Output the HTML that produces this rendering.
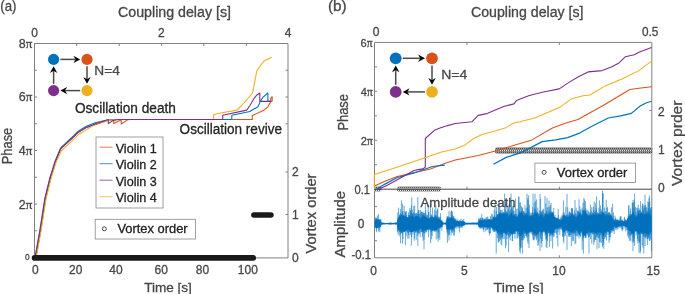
<!DOCTYPE html>
<html><head><meta charset="utf-8"><style>
html,body{margin:0;padding:0;background:#fff;width:685px;height:294px;overflow:hidden}
svg{display:block;transform:translateZ(0)}
text{font-family:"Liberation Sans",sans-serif;stroke:currentColor;stroke-width:0.3px}
</style></head><body>
<svg width="685" height="294" viewBox="0 0 685 294"><text x="0.3" y="10.7" font-size="15" fill="#474747" color="#474747" font-family="Liberation Sans" textLength="16.2" lengthAdjust="spacingAndGlyphs">(a)</text>
<text x="328" y="10.7" font-size="15" fill="#474747" color="#474747" font-family="Liberation Sans" textLength="18.7" lengthAdjust="spacingAndGlyphs">(b)</text>
<text x="118" y="17" font-size="14" fill="#474747" color="#474747" font-family="Liberation Sans" textLength="113" lengthAdjust="spacingAndGlyphs">Coupling delay [s]</text>
<text x="471" y="17" font-size="14" fill="#474747" color="#474747" font-family="Liberation Sans" textLength="112.5" lengthAdjust="spacingAndGlyphs">Coupling delay [s]</text>
<path d="M34.5,257.9 V43.5 H288 V257.9 H34.5" fill="none" stroke="#808080" stroke-width="1"/>
<line x1="34.5" y1="43.5" x2="37.0" y2="43.5" stroke="#808080" stroke-width="1"/>
<line x1="34.5" y1="70.25" x2="37.0" y2="70.25" stroke="#808080" stroke-width="1"/>
<line x1="34.5" y1="97.0" x2="37.0" y2="97.0" stroke="#808080" stroke-width="1"/>
<line x1="34.5" y1="123.75" x2="37.0" y2="123.75" stroke="#808080" stroke-width="1"/>
<line x1="34.5" y1="150.5" x2="37.0" y2="150.5" stroke="#808080" stroke-width="1"/>
<line x1="34.5" y1="177.25" x2="37.0" y2="177.25" stroke="#808080" stroke-width="1"/>
<line x1="34.5" y1="204.0" x2="37.0" y2="204.0" stroke="#808080" stroke-width="1"/>
<line x1="34.5" y1="230.75" x2="37.0" y2="230.75" stroke="#808080" stroke-width="1"/>
<line x1="34.5" y1="257.5" x2="37.0" y2="257.5" stroke="#808080" stroke-width="1"/>
<line x1="76.7" y1="43.5" x2="76.7" y2="46.0" stroke="#808080" stroke-width="1"/>
<line x1="119.2" y1="43.5" x2="119.2" y2="46.0" stroke="#808080" stroke-width="1"/>
<line x1="161.7" y1="43.5" x2="161.7" y2="46.0" stroke="#808080" stroke-width="1"/>
<line x1="203.8" y1="43.5" x2="203.8" y2="46.0" stroke="#808080" stroke-width="1"/>
<line x1="246.3" y1="43.5" x2="246.3" y2="46.0" stroke="#808080" stroke-width="1"/>
<line x1="285.5" y1="70.25" x2="288" y2="70.25" stroke="#808080" stroke-width="1"/>
<line x1="285.5" y1="97" x2="288" y2="97" stroke="#808080" stroke-width="1"/>
<line x1="285.5" y1="123.75" x2="288" y2="123.75" stroke="#808080" stroke-width="1"/>
<line x1="285.5" y1="172" x2="288" y2="172" stroke="#808080" stroke-width="1"/>
<line x1="285.5" y1="214.5" x2="288" y2="214.5" stroke="#808080" stroke-width="1"/>
<text x="34.5" y="36.5" font-size="12" fill="#474747" color="#474747" font-family="Liberation Sans" text-anchor="middle">0</text>
<text x="161.25" y="36.5" font-size="12" fill="#474747" color="#474747" font-family="Liberation Sans" text-anchor="middle">2</text>
<text x="288.0" y="36.5" font-size="12" fill="#474747" color="#474747" font-family="Liberation Sans" text-anchor="middle">4</text>
<text x="32.3" y="47.8" font-size="12.5" fill="#474747" color="#474747" font-family="Liberation Sans" text-anchor="end">8<tspan font-family="Liberation Serif" font-size="13.125">π</tspan></text>
<text x="32.3" y="101.3" font-size="12.5" fill="#474747" color="#474747" font-family="Liberation Sans" text-anchor="end">6<tspan font-family="Liberation Serif" font-size="13.125">π</tspan></text>
<text x="32.3" y="154.8" font-size="12.5" fill="#474747" color="#474747" font-family="Liberation Sans" text-anchor="end">4<tspan font-family="Liberation Serif" font-size="13.125">π</tspan></text>
<text x="32.3" y="208.5" font-size="12.5" fill="#474747" color="#474747" font-family="Liberation Sans" text-anchor="end">2<tspan font-family="Liberation Serif" font-size="13.125">π</tspan></text>
<text x="29.6" y="259.6" font-size="9" fill="#474747" color="#474747" font-family="Liberation Sans" text-anchor="end" textLength="4.6" lengthAdjust="spacingAndGlyphs">0</text>
<text x="35.3" y="273.7" font-size="12" fill="#474747" color="#474747" font-family="Liberation Sans" text-anchor="middle">0</text>
<text x="75.8" y="273.7" font-size="12" fill="#474747" color="#474747" font-family="Liberation Sans" text-anchor="middle">20</text>
<text x="116" y="273.7" font-size="12" fill="#474747" color="#474747" font-family="Liberation Sans" text-anchor="middle">40</text>
<text x="161.3" y="273.7" font-size="12" fill="#474747" color="#474747" font-family="Liberation Sans" text-anchor="middle">60</text>
<text x="202.5" y="273.7" font-size="12" fill="#474747" color="#474747" font-family="Liberation Sans" text-anchor="middle">80</text>
<text x="247.8" y="273.7" font-size="12" fill="#474747" color="#474747" font-family="Liberation Sans" text-anchor="middle">100</text>
<text x="144.2" y="291.5" font-size="13.5" fill="#474747" color="#474747" font-family="Liberation Sans" textLength="47.7" lengthAdjust="spacingAndGlyphs">Time [s]</text>
<text x="292" y="261.7" font-size="12" fill="#474747" color="#474747" font-family="Liberation Sans">0</text>
<text x="292" y="218.7" font-size="12" fill="#474747" color="#474747" font-family="Liberation Sans">1</text>
<text x="292" y="176.2" font-size="12" fill="#474747" color="#474747" font-family="Liberation Sans">2</text>
<text transform="translate(11.7,164.2) rotate(-90)" font-size="14" fill="#474747" color="#474747" font-family="Liberation Sans" textLength="36.4" lengthAdjust="spacingAndGlyphs">Phase</text>
<text transform="translate(315.9,253.5) rotate(-90)" font-size="14" fill="#474747" color="#474747" font-family="Liberation Sans" textLength="80" lengthAdjust="spacingAndGlyphs">Vortex order</text>
<circle cx="53.6" cy="59.4" r="5.6" fill="#0072BD"/>
<circle cx="87.0" cy="59.4" r="5.6" fill="#D95319"/>
<circle cx="87.0" cy="90.6" r="5.6" fill="#EDB120"/>
<circle cx="53.6" cy="90.6" r="5.6" fill="#7E2F8E"/>
<line x1="60.4" y1="59.4" x2="75.4" y2="59.4" stroke="#4a4a4a" stroke-width="1.5"/>
<path d="M80.2,59.4 L73.4,63.1 L75.60000000000001,59.4 L73.4,55.699999999999996 Z" fill="#000"/>
<line x1="87.0" y1="66.2" x2="87.0" y2="79.0" stroke="#4a4a4a" stroke-width="1.5"/>
<path d="M87.0,83.8 L83.3,77.0 L87.0,79.2 L90.7,77.0 Z" fill="#000"/>
<line x1="80.2" y1="90.6" x2="65.2" y2="90.6" stroke="#4a4a4a" stroke-width="1.5"/>
<path d="M60.4,90.6 L67.2,86.89999999999999 L65.0,90.6 L67.2,94.3 Z" fill="#000"/>
<line x1="53.6" y1="83.8" x2="53.6" y2="71.0" stroke="#4a4a4a" stroke-width="1.5"/>
<path d="M53.6,66.2 L57.300000000000004,73.0 L53.6,70.8 L49.9,73.0 Z" fill="#000"/>
<text x="94.3" y="75.2" font-size="13" fill="#4a4a4a" color="#4a4a4a" font-family="Liberation Sans" textLength="25.5" lengthAdjust="spacingAndGlyphs">N=4</text>
<text x="74.9" y="113" font-size="14" fill="#262626" color="#262626" font-family="Liberation Sans" textLength="101" lengthAdjust="spacingAndGlyphs">Oscillation death</text>
<text x="179.6" y="134.3" font-size="14" fill="#262626" color="#262626" font-family="Liberation Sans" textLength="102.4" lengthAdjust="spacingAndGlyphs">Oscillation revive</text>
<polyline points="35.4,257.5 40.2,230.7 45.3,198.0 50.3,177.8 55.4,161.4 60.5,149.2 62.6,147.1 67.7,142.4 73.0,137.5 78.1,132.4 85.8,127.8 96.0,124.5 107.6,120.5 110.0,119.8 113.7,119.8 113.7,123.5 121.2,119.8 121.2,124.0 128.0,119.6 130.0,119.5 252.3,119.5 252.3,115.5 263.3,110.6 267.9,106.8 270.2,102.9 271.0,97.6 272.2,96.8 272.2,101.4" fill="none" stroke="#D95319" stroke-width="1.1" stroke-linejoin="round"/>
<polyline points="35.9,256.9 40.7,230.1 45.8,197.4 50.8,177.2 55.9,160.8 61.0,147.7 63.1,145.6 68.2,140.9 73.5,136.0 78.6,130.9 86.3,126.3 96.0,122.5 106.0,120.3 118.0,119.5 231.8,119.5 231.8,115.2 250.0,111.5 252.6,109.8 258.0,106.8 260.3,101.4 263.3,96.8 267.9,93.0 267.9,101.4 270.0,101.4" fill="none" stroke="#0072BD" stroke-width="1.1" stroke-linejoin="round"/>
<polyline points="36.2,258.0 41.0,231.2 46.1,198.5 51.1,178.3 56.2,161.9 61.3,151.0 63.4,148.9 68.5,144.2 73.8,139.3 78.9,134.2 86.6,129.6 96.0,123.5 106.0,120.6 118.0,119.5 213.5,119.5 213.5,114.7 219.2,113.3 237.1,110.1 241.2,106.0 252.6,93.0 256.8,70.9 263.6,61.3 271.7,57.2" fill="none" stroke="#EDB120" stroke-width="1.1" stroke-linejoin="round"/>
<polyline points="34.9,257.8 39.7,231.0 44.8,198.3 49.8,178.1 54.9,161.7 60.0,149.5 62.1,147.4 67.2,142.7 72.5,137.8 77.6,132.7 85.3,128.1 96.0,123.5 104.0,121.0 108.3,119.6 108.3,123.6 113.0,120.5 118.0,119.5 222.7,119.5 222.7,115.2 246.7,110.1 249.6,106.0 254.2,98.3 256.5,95.3 259.8,93.0 259.8,101.4 271.8,101.4" fill="none" stroke="#7E2F8E" stroke-width="1.1" stroke-linejoin="round"/>
<rect x="96" y="137" width="67" height="71" fill="#fff" stroke="#888" stroke-width="0.8"/>
<line x1="99.5" y1="147.2" x2="112.6" y2="147.2" stroke="#D95319" stroke-width="1" opacity="0.75"/>
<text x="115.7" y="152.6" font-size="13.3" fill="#222" color="#222" font-family="Liberation Sans" textLength="41" lengthAdjust="spacingAndGlyphs">Violin 1</text>
<line x1="99.5" y1="163.7" x2="112.6" y2="163.7" stroke="#0072BD" stroke-width="1" opacity="0.75"/>
<text x="115.7" y="169.1" font-size="13.3" fill="#222" color="#222" font-family="Liberation Sans" textLength="41" lengthAdjust="spacingAndGlyphs">Violin 2</text>
<line x1="99.5" y1="180.2" x2="112.6" y2="180.2" stroke="#7E2F8E" stroke-width="1" opacity="0.75"/>
<text x="115.7" y="185.6" font-size="13.3" fill="#222" color="#222" font-family="Liberation Sans" textLength="41" lengthAdjust="spacingAndGlyphs">Violin 3</text>
<line x1="99.5" y1="196.7" x2="112.6" y2="196.7" stroke="#EDB120" stroke-width="1" opacity="0.75"/>
<text x="115.7" y="202.1" font-size="13.3" fill="#222" color="#222" font-family="Liberation Sans" textLength="41" lengthAdjust="spacingAndGlyphs">Violin 4</text>
<rect x="95.2" y="219.3" width="100.3" height="19.7" fill="#fff" stroke="#888" stroke-width="0.8"/>
<circle cx="104.3" cy="228.8" r="2" fill="none" stroke="#222" stroke-width="0.8"/>
<text x="117.4" y="233" font-size="13.3" fill="#222" color="#222" font-family="Liberation Sans" textLength="70.2" lengthAdjust="spacingAndGlyphs">Vortex order</text>
<line x1="34.5" y1="257.9" x2="253.3" y2="257.9" stroke="#1a1a1a" stroke-width="5.6" stroke-linecap="round"/>
<line x1="253.9" y1="215" x2="270.9" y2="215" stroke="#1a1a1a" stroke-width="5.6" stroke-linecap="round"/>
<path d="M374.5,257.8 V42.4 H651.8 V257.8 H374.5" fill="none" stroke="#808080" stroke-width="1"/>
<line x1="374.5" y1="189.2" x2="651.8" y2="189.2" stroke="#444" stroke-width="1"/>
<line x1="466.93333333333334" y1="42.4" x2="466.93333333333334" y2="44.9" stroke="#808080" stroke-width="1"/>
<line x1="466.93333333333334" y1="189.2" x2="466.93333333333334" y2="186.7" stroke="#808080" stroke-width="1"/>
<line x1="466.93333333333334" y1="257.8" x2="466.93333333333334" y2="255.3" stroke="#808080" stroke-width="1"/>
<line x1="559.3666666666667" y1="42.4" x2="559.3666666666667" y2="44.9" stroke="#808080" stroke-width="1"/>
<line x1="559.3666666666667" y1="189.2" x2="559.3666666666667" y2="186.7" stroke="#808080" stroke-width="1"/>
<line x1="559.3666666666667" y1="257.8" x2="559.3666666666667" y2="255.3" stroke="#808080" stroke-width="1"/>
<line x1="374.5" y1="66.86666666666666" x2="377.0" y2="66.86666666666666" stroke="#808080" stroke-width="1"/>
<line x1="374.5" y1="91.33333333333333" x2="377.0" y2="91.33333333333333" stroke="#808080" stroke-width="1"/>
<line x1="374.5" y1="115.79999999999998" x2="377.0" y2="115.79999999999998" stroke="#808080" stroke-width="1"/>
<line x1="374.5" y1="140.26666666666665" x2="377.0" y2="140.26666666666665" stroke="#808080" stroke-width="1"/>
<line x1="374.5" y1="164.73333333333332" x2="377.0" y2="164.73333333333332" stroke="#808080" stroke-width="1"/>
<line x1="649.3" y1="110.4" x2="651.8" y2="110.4" stroke="#808080" stroke-width="1"/>
<line x1="649.3" y1="150" x2="651.8" y2="150" stroke="#808080" stroke-width="1"/>
<line x1="374.5" y1="206.6" x2="377.0" y2="206.6" stroke="#808080" stroke-width="1"/>
<line x1="374.5" y1="223.6" x2="377.0" y2="223.6" stroke="#808080" stroke-width="1"/>
<line x1="374.5" y1="240.7" x2="377.0" y2="240.7" stroke="#808080" stroke-width="1"/>
<text x="376" y="35.5" font-size="12" fill="#474747" color="#474747" font-family="Liberation Sans" text-anchor="middle">0</text>
<text x="650.2" y="35.5" font-size="12" fill="#474747" color="#474747" font-family="Liberation Sans" text-anchor="middle" textLength="16.4" lengthAdjust="spacingAndGlyphs">0.5</text>
<text x="372.5" y="46.699999999999996" font-size="11" fill="#474747" color="#474747" font-family="Liberation Sans" text-anchor="end">6<tspan font-family="Liberation Serif" font-size="11.55">π</tspan></text>
<text x="372.8" y="95.8" font-size="11" fill="#474747" color="#474747" font-family="Liberation Sans" text-anchor="end">4<tspan font-family="Liberation Serif" font-size="11.55">π</tspan></text>
<text x="372.8" y="144.8" font-size="11" fill="#474747" color="#474747" font-family="Liberation Sans" text-anchor="end">2<tspan font-family="Liberation Serif" font-size="11.55">π</tspan></text>
<text x="370" y="194.3" font-size="12" fill="#474747" color="#474747" font-family="Liberation Sans" text-anchor="end" textLength="15.5" lengthAdjust="spacingAndGlyphs">0.1</text>
<text x="364.5" y="227.6" font-size="12" fill="#474747" color="#474747" font-family="Liberation Sans" text-anchor="end">0</text>
<text x="371" y="259.3" font-size="12" fill="#474747" color="#474747" font-family="Liberation Sans" text-anchor="end" textLength="19.6" lengthAdjust="spacingAndGlyphs">-0.1</text>
<text x="373.7" y="274.5" font-size="12" fill="#474747" color="#474747" font-family="Liberation Sans" text-anchor="middle">0</text>
<text x="464.3" y="274.5" font-size="12" fill="#474747" color="#474747" font-family="Liberation Sans" text-anchor="middle">5</text>
<text x="559" y="274.5" font-size="12" fill="#474747" color="#474747" font-family="Liberation Sans" text-anchor="middle">10</text>
<text x="653.2" y="274.5" font-size="12" fill="#474747" color="#474747" font-family="Liberation Sans" text-anchor="middle">15</text>
<text x="493.6" y="291.5" font-size="13.5" fill="#474747" color="#474747" font-family="Liberation Sans" textLength="50" lengthAdjust="spacingAndGlyphs">Time [s]</text>
<text x="658" y="115.8" font-size="12" fill="#474747" color="#474747" font-family="Liberation Sans">2</text>
<text x="658" y="154.39999999999998" font-size="12" fill="#474747" color="#474747" font-family="Liberation Sans">1</text>
<text x="658" y="191.7" font-size="12" fill="#474747" color="#474747" font-family="Liberation Sans">0</text>
<text transform="translate(348.3,130.6) rotate(-90)" font-size="14" fill="#474747" color="#474747" font-family="Liberation Sans" textLength="36.6" lengthAdjust="spacingAndGlyphs">Phase</text>
<text transform="translate(345.1,257.5) rotate(-90)" font-size="14" fill="#474747" color="#474747" font-family="Liberation Sans" textLength="66.6" lengthAdjust="spacingAndGlyphs">Amplitude</text>
<text transform="translate(682,186) rotate(-90)" font-size="14" fill="#474747" color="#474747" font-family="Liberation Sans" textLength="85.6" lengthAdjust="spacingAndGlyphs">Vortex prder</text>
<circle cx="395.7" cy="58.3" r="5.9" fill="#0072BD"/>
<circle cx="432.0" cy="58.3" r="5.9" fill="#D95319"/>
<circle cx="432.0" cy="91.9" r="5.9" fill="#EDB120"/>
<circle cx="395.7" cy="91.9" r="5.9" fill="#7E2F8E"/>
<line x1="402.8" y1="58.3" x2="420.09999999999997" y2="58.3" stroke="#4a4a4a" stroke-width="1.5"/>
<path d="M424.9,58.3 L418.09999999999997,62.0 L420.29999999999995,58.3 L418.09999999999997,54.599999999999994 Z" fill="#000"/>
<line x1="432.0" y1="65.39999999999999" x2="432.0" y2="80.00000000000001" stroke="#4a4a4a" stroke-width="1.5"/>
<path d="M432.0,84.80000000000001 L428.3,78.00000000000001 L432.0,80.20000000000002 L435.7,78.00000000000001 Z" fill="#000"/>
<line x1="424.9" y1="91.9" x2="407.6" y2="91.9" stroke="#4a4a4a" stroke-width="1.5"/>
<path d="M402.8,91.9 L409.6,88.2 L407.40000000000003,91.9 L409.6,95.60000000000001 Z" fill="#000"/>
<line x1="395.7" y1="84.80000000000001" x2="395.7" y2="70.19999999999999" stroke="#4a4a4a" stroke-width="1.5"/>
<path d="M395.7,65.39999999999999 L399.4,72.19999999999999 L395.7,69.99999999999999 L392.0,72.19999999999999 Z" fill="#000"/>
<text x="441.2" y="78.5" font-size="13" fill="#4a4a4a" color="#4a4a4a" font-family="Liberation Sans" textLength="26" lengthAdjust="spacingAndGlyphs">N=4</text>
<defs>
<pattern id="cb" patternUnits="userSpaceOnUse" x="0" y="0" width="2" height="7">
<rect x="0" y="0" width="2" height="1" fill="#b4b4b4"/>
<rect x="0" y="1" width="1" height="1" fill="#4c4c4c"/><rect x="1" y="1" width="1" height="1" fill="#9a9a9a"/>
<rect x="0" y="2" width="2" height="1" fill="#8a8a8a"/>
<rect x="0" y="3" width="1" height="1" fill="#e6e6e6"/><rect x="1" y="3" width="1" height="1" fill="#5a5a5a"/>
<rect x="0" y="4" width="2" height="1" fill="#8a8a8a"/>
<rect x="0" y="5" width="1" height="1" fill="#9a9a9a"/><rect x="1" y="5" width="1" height="1" fill="#4c4c4c"/>
<rect x="0" y="6" width="2" height="1" fill="#b4b4b4"/>
</pattern>
<pattern id="cb2" patternUnits="userSpaceOnUse" x="0" y="0" width="2" height="6">
<rect x="0" y="0" width="2" height="1" fill="#c4c4c4"/>
<rect x="0" y="1" width="1" height="1" fill="#5a5a5a"/><rect x="1" y="1" width="1" height="1" fill="#a8a8a8"/>
<rect x="0" y="2" width="2" height="1" fill="#9a9a9a"/>
<rect x="0" y="3" width="2" height="1" fill="#555"/>
<rect x="0" y="4" width="1" height="1" fill="#e8e8e8"/><rect x="1" y="4" width="1" height="1" fill="#5a5a5a"/>
<rect x="0" y="5" width="2" height="1" fill="#c4c4c4"/>
</pattern>
</defs>
<rect x="495" y="147" width="157.5" height="7" rx="2.8" ry="2.8" fill="url(#cb)"/>
<rect x="374" y="186" width="7.5" height="6" rx="2.8" ry="2.8" fill="url(#cb2)"/>
<rect x="397" y="186" width="44" height="6" rx="2.8" ry="2.8" fill="url(#cb2)"/>
<polyline points="374.5,186.0 385.0,181.2 397.3,176.5 413.5,172.7 430.5,168.9 442.5,164.3 455.3,160.0 478.2,155.6 497.3,150.5 515.0,145.0 532.0,139.9 552.4,128.0 566.0,122.9 577.9,119.5 590.0,112.8 605.3,104.2 620.6,95.0 629.8,89.5 638.9,88.3 651.5,86.8" fill="none" stroke="#D95319" stroke-width="1.05" stroke-linejoin="round"/>
<polyline points="376.0,189.5 385.0,184.1 397.3,177.5 413.5,173.2 432.4,166.5 444.8,165.1" fill="none" stroke="#0072BD" stroke-width="1.2" stroke-linejoin="round"/>
<polyline points="493.5,164.3 506.2,157.4 513.9,154.9 520.0,153.1 542.2,141.6 555.8,139.9 567.7,137.6 579.6,133.1 590.0,127.2 608.3,118.0 620.6,115.8 631.3,113.4 640.5,105.7 646.6,102.7 651.5,101.2" fill="none" stroke="#0072BD" stroke-width="1.2" stroke-linejoin="round"/>
<polyline points="378.0,189.5 387.8,185.0 413.5,170.8 416.3,169.9 423.0,168.9 425.3,167.0 425.3,138.5 434.4,130.3 440.0,128.1 447.6,125.6 455.3,123.5 471.8,121.8 478.2,115.4 487.1,113.6 493.5,110.8 503.7,106.5 513.9,103.9 516.4,100.6 528.6,95.7 542.2,92.3 559.2,88.9 569.4,82.1 577.9,77.0 588.1,71.9 602.2,70.6 611.4,66.9 619.0,62.9 625.2,56.8 634.3,54.7 638.9,52.2 651.5,47.6" fill="none" stroke="#7E2F8E" stroke-width="1.1" stroke-linejoin="round"/>
<polyline points="374.3,188.5 374.3,174.5 393.0,168.5 411.8,162.2 441.5,152.1 455.3,149.0 465.5,144.7 473.1,138.8 482.0,134.5 496.0,130.7 505.0,128.1 513.9,123.0 520.0,121.8 535.4,117.8 559.2,107.6 571.1,99.1 583.0,95.7 590.0,95.0 605.3,85.9 623.6,78.2 638.9,70.6 651.5,61.2" fill="none" stroke="#EDB120" stroke-width="1.05" stroke-linejoin="round"/>
<rect x="534.9" y="163.1" width="100.6" height="19.4" fill="#fff" stroke="#888" stroke-width="0.8"/>
<circle cx="544.1" cy="172.3" r="2" fill="none" stroke="#222" stroke-width="0.8"/>
<text x="556.8" y="176.8" font-size="13.3" fill="#222" color="#222" font-family="Liberation Sans" textLength="70.6" lengthAdjust="spacingAndGlyphs">Vortex order</text>
<path d="M375.00,220.2 L375.40,220.5 L375.80,220.4 L376.20,219.9 L376.60,219.7 L377.00,219.3 L377.40,220.1 L377.80,219.6 L378.20,220.2 L378.60,220.4 L379.00,219.5 L379.40,220.0 L379.80,220.2 L380.20,219.8 L380.60,221.1 L381.00,221.8 L381.40,222.6 L381.80,222.5 L382.20,222.6 L382.60,222.5 L383.00,222.8 L383.40,222.5 L383.80,222.8 L384.20,222.8 L384.60,222.8 L385.00,223.0 L385.40,223.0 L385.80,223.0 L386.20,222.9 L386.60,223.0 L387.00,223.0 L387.40,222.9 L387.80,223.0 L388.20,222.9 L388.60,222.8 L389.00,222.7 L389.40,222.7 L389.80,222.5 L390.20,222.6 L390.60,222.6 L391.00,222.7 L391.40,222.7 L391.80,222.7 L392.20,222.9 L392.60,222.8 L393.00,222.9 L393.40,222.7 L393.80,222.9 L394.20,222.8 L394.60,222.8 L395.00,222.6 L395.40,222.5 L395.80,222.5 L396.20,222.5 L396.60,222.4 L397.00,222.6 L397.40,220.7 L397.80,217.5 L398.20,217.1 L398.60,218.3 L399.00,216.5 L399.40,217.0 L399.80,216.4 L400.20,215.3 L400.60,216.4 L401.00,214.5 L401.40,216.0 L401.80,214.4 L402.20,215.9 L402.60,214.7 L403.00,216.1 L403.40,215.1 L403.80,215.0 L404.20,215.5 L404.60,216.2 L405.00,216.2 L405.40,215.9 L405.80,217.2 L406.20,217.7 L406.60,216.7 L407.00,217.2 L407.40,217.6 L407.80,217.0 L408.20,217.0 L408.60,217.8 L409.00,217.1 L409.40,217.0 L409.80,215.5 L410.20,217.0 L410.60,215.2 L411.00,216.5 L411.40,216.8 L411.80,215.2 L412.20,215.6 L412.60,215.9 L413.00,216.1 L413.40,217.2 L413.80,217.6 L414.20,217.6 L414.60,217.0 L415.00,216.5 L415.40,216.3 L415.80,216.2 L416.20,216.3 L416.60,215.2 L417.00,216.3 L417.40,217.2 L417.80,216.4 L418.20,216.2 L418.60,215.8 L419.00,217.3 L419.40,216.8 L419.80,218.3 L420.20,217.2 L420.60,218.9 L421.00,219.0 L421.40,217.3 L421.80,217.4 L422.20,216.2 L422.60,215.7 L423.00,216.6 L423.40,215.0 L423.80,215.0 L424.20,216.9 L424.60,215.2 L425.00,215.8 L425.40,217.6 L425.80,217.1 L426.20,216.4 L426.60,217.3 L427.00,218.6 L427.40,218.1 L427.80,218.5 L428.20,218.0 L428.60,218.8 L429.00,219.0 L429.40,219.7 L429.80,218.3 L430.20,218.6 L430.60,217.1 L431.00,217.9 L431.40,215.8 L431.80,217.0 L432.20,217.4 L432.60,216.3 L433.00,218.2 L433.40,217.7 L433.80,217.0 L434.20,217.8 L434.60,217.4 L435.00,217.0 L435.40,217.1 L435.80,216.7 L436.20,217.6 L436.60,217.4 L437.00,218.5 L437.40,217.6 L437.80,218.3 L438.20,218.6 L438.60,219.0 L439.00,218.3 L439.40,219.1 L439.80,219.9 L440.20,220.2 L440.60,219.5 L441.00,220.3 L441.40,220.7 L441.80,220.6 L442.20,221.6 L442.60,222.0 L443.00,222.5 L443.40,222.4 L443.80,222.5 L444.20,222.8 L444.60,222.8 L445.00,222.6 L445.40,222.6 L445.80,222.8 L446.20,221.5 L446.60,219.6 L447.00,217.8 L447.40,216.9 L447.80,217.9 L448.20,218.2 L448.60,218.4 L449.00,219.3 L449.40,218.6 L449.80,218.8 L450.20,218.0 L450.60,218.7 L451.00,217.7 L451.40,217.1 L451.80,217.9 L452.20,217.9 L452.60,217.8 L453.00,217.1 L453.40,219.0 L453.80,218.7 L454.20,219.6 L454.60,220.0 L455.00,219.3 L455.40,220.7 L455.80,220.4 L456.20,221.2 L456.60,220.6 L457.00,221.2 L457.40,221.4 L457.80,221.5 L458.20,221.2 L458.60,221.3 L459.00,221.4 L459.40,221.2 L459.80,221.4 L460.20,221.3 L460.60,221.4 L461.00,221.5 L461.40,221.1 L461.80,221.2 L462.20,221.5 L462.60,221.4 L463.00,221.6 L463.40,221.4 L463.80,221.6 L464.20,221.8 L464.60,222.0 L465.00,222.2 L465.40,222.6 L465.80,222.5 L466.20,222.7 L466.60,222.7 L467.00,222.7 L467.40,222.7 L467.80,222.7 L468.20,222.6 L468.60,222.7 L469.00,222.7 L469.40,222.7 L469.80,222.8 L470.20,222.8 L470.60,222.8 L471.00,222.7 L471.40,222.5 L471.80,222.7 L472.20,222.6 L472.60,222.5 L473.00,222.8 L473.40,222.6 L473.80,222.6 L474.20,222.7 L474.60,222.6 L475.00,222.8 L475.40,222.6 L475.80,222.8 L476.20,222.5 L476.60,222.6 L477.00,222.5 L477.40,222.5 L477.80,222.6 L478.20,222.3 L478.60,221.0 L479.00,220.8 L479.40,220.9 L479.80,221.0 L480.20,220.2 L480.60,220.5 L481.00,220.1 L481.40,220.3 L481.80,219.5 L482.20,219.4 L482.60,220.2 L483.00,219.5 L483.40,220.1 L483.80,220.7 L484.20,220.2 L484.60,220.0 L485.00,219.9 L485.40,220.4 L485.80,220.4 L486.20,220.0 L486.60,220.2 L487.00,219.6 L487.40,220.0 L487.80,220.3 L488.20,219.6 L488.60,219.5 L489.00,220.1 L489.40,219.4 L489.80,219.4 L490.20,220.1 L490.60,219.8 L491.00,220.3 L491.40,219.3 L491.80,220.2 L492.20,219.4 L492.60,218.7 L493.00,218.4 L493.40,217.7 L493.80,216.5 L494.20,217.3 L494.60,218.3 L495.00,217.2 L495.40,217.4 L495.80,216.8 L496.20,217.0 L496.60,216.2 L497.00,216.3 L497.40,215.0 L497.80,213.7 L498.20,215.2 L498.60,213.6 L499.00,214.8 L499.40,213.1 L499.80,215.0 L500.20,213.7 L500.60,211.9 L501.00,213.4 L501.40,214.0 L501.80,214.3 L502.20,214.3 L502.60,212.4 L503.00,212.7 L503.40,212.8 L503.80,214.0 L504.20,213.3 L504.60,213.5 L505.00,212.9 L505.40,215.3 L505.80,212.2 L506.20,215.0 L506.60,212.5 L507.00,212.9 L507.40,213.9 L507.80,214.0 L508.20,215.7 L508.60,216.9 L509.00,216.5 L509.40,215.6 L509.80,214.7 L510.20,213.1 L510.60,214.3 L511.00,212.4 L511.40,212.6 L511.80,213.2 L512.20,212.3 L512.60,215.0 L513.00,215.7 L513.40,214.1 L513.80,216.0 L514.20,214.9 L514.60,215.1 L515.00,216.9 L515.40,215.2 L515.80,216.8 L516.20,216.1 L516.60,216.9 L517.00,217.2 L517.40,217.3 L517.80,215.7 L518.20,215.1 L518.60,215.0 L519.00,215.0 L519.40,212.0 L519.80,213.0 L520.20,213.6 L520.60,213.2 L521.00,210.6 L521.40,211.3 L521.80,212.4 L522.20,213.3 L522.60,212.8 L523.00,214.0 L523.40,215.2 L523.80,215.3 L524.20,215.5 L524.60,215.7 L525.00,214.8 L525.40,215.1 L525.80,212.5 L526.20,213.7 L526.60,212.7 L527.00,213.9 L527.40,215.1 L527.80,214.6 L528.20,215.1 L528.60,215.8 L529.00,216.3 L529.40,215.9 L529.80,215.0 L530.20,216.4 L530.60,216.2 L531.00,215.1 L531.40,216.1 L531.80,215.6 L532.20,214.8 L532.60,216.4 L533.00,216.2 L533.40,213.7 L533.80,214.4 L534.20,212.1 L534.60,212.9 L535.00,213.2 L535.40,213.8 L535.80,210.8 L536.20,212.7 L536.60,213.7 L537.00,213.5 L537.40,212.9 L537.80,212.8 L538.20,213.4 L538.60,215.3 L539.00,216.6 L539.40,215.2 L539.80,216.7 L540.20,215.7 L540.60,215.1 L541.00,214.6 L541.40,213.0 L541.80,214.4 L542.20,215.3 L542.60,214.9 L543.00,216.1 L543.40,216.9 L543.80,216.7 L544.20,216.2 L544.60,216.7 L545.00,214.3 L545.40,213.4 L545.80,214.4 L546.20,214.6 L546.60,215.0 L547.00,214.6 L547.40,214.9 L547.80,214.3 L548.20,214.9 L548.60,214.7 L549.00,215.8 L549.40,213.0 L549.80,214.6 L550.20,212.8 L550.60,212.3 L551.00,211.9 L551.40,213.4 L551.80,213.9 L552.20,211.5 L552.60,212.4 L553.00,213.7 L553.40,214.6 L553.80,214.5 L554.20,216.4 L554.60,217.3 L555.00,217.8 L555.40,217.6 L555.80,218.3 L556.20,219.5 L556.60,218.4 L557.00,218.0 L557.40,218.5 L557.80,219.5 L558.20,219.6 L558.60,219.0 L559.00,219.6 L559.40,219.8 L559.80,219.6 L560.20,220.6 L560.60,220.8 L561.00,220.3 L561.40,220.1 L561.80,219.1 L562.20,218.8 L562.60,217.7 L563.00,214.8 L563.40,216.5 L563.80,215.7 L564.20,214.9 L564.60,215.6 L565.00,216.5 L565.40,217.1 L565.80,218.0 L566.20,216.5 L566.60,216.9 L567.00,217.9 L567.40,216.2 L567.80,216.7 L568.20,217.3 L568.60,216.5 L569.00,215.5 L569.40,215.4 L569.80,216.2 L570.20,216.5 L570.60,216.0 L571.00,215.8 L571.40,214.7 L571.80,214.1 L572.20,213.9 L572.60,212.9 L573.00,215.7 L573.40,214.3 L573.80,216.0 L574.20,215.6 L574.60,216.1 L575.00,217.0 L575.40,216.6 L575.80,217.8 L576.20,217.4 L576.60,217.3 L577.00,217.3 L577.40,216.0 L577.80,215.5 L578.20,215.1 L578.60,214.1 L579.00,211.4 L579.40,214.7 L579.80,213.4 L580.20,213.6 L580.60,214.2 L581.00,214.4 L581.40,215.3 L581.80,215.6 L582.20,214.1 L582.60,214.5 L583.00,214.4 L583.40,211.2 L583.80,210.4 L584.20,211.2 L584.60,210.8 L585.00,213.2 L585.40,211.1 L585.80,210.9 L586.20,212.8 L586.60,214.5 L587.00,213.5 L587.40,215.5 L587.80,215.1 L588.20,216.0 L588.60,215.9 L589.00,214.4 L589.40,215.5 L589.80,215.9 L590.20,214.9 L590.60,213.7 L591.00,213.7 L591.40,215.1 L591.80,215.8 L592.20,215.9 L592.60,213.6 L593.00,215.9 L593.40,214.5 L593.80,212.8 L594.20,215.1 L594.60,214.9 L595.00,213.7 L595.40,212.5 L595.80,212.9 L596.20,214.0 L596.60,215.4 L597.00,214.3 L597.40,213.7 L597.80,215.7 L598.20,214.7 L598.60,214.3 L599.00,212.9 L599.40,214.6 L599.80,214.1 L600.20,214.6 L600.60,214.9 L601.00,213.2 L601.40,213.1 L601.80,214.8 L602.20,213.4 L602.60,211.6 L603.00,214.1 L603.40,212.4 L603.80,212.7 L604.20,213.9 L604.60,215.3 L605.00,213.6 L605.40,215.7 L605.80,215.6 L606.20,216.5 L606.60,216.7 L607.00,214.6 L607.40,215.4 L607.80,214.9 L608.20,214.6 L608.60,215.2 L609.00,215.6 L609.40,215.2 L609.80,214.6 L610.20,215.9 L610.60,215.2 L611.00,215.3 L611.40,216.7 L611.80,216.7 L612.20,218.5 L612.60,218.2 L613.00,219.0 L613.40,219.8 L613.80,220.0 L614.20,220.7 L614.60,221.1 L615.00,220.6 L615.40,220.8 L615.80,220.3 L616.20,219.8 L616.60,220.4 L617.00,220.3 L617.40,220.0 L617.80,220.5 L618.20,220.9 L618.60,220.6 L619.00,220.6 L619.40,220.6 L619.80,221.2 L620.20,220.5 L620.60,221.0 L621.00,220.8 L621.40,220.9 L621.80,221.0 L622.20,221.3 L622.60,221.5 L623.00,221.7 L623.40,221.3 L623.80,221.6 L624.20,221.5 L624.60,221.5 L625.00,221.4 L625.40,220.6 L625.80,220.8 L626.20,221.0 L626.60,220.9 L627.00,220.3 L627.40,218.6 L627.80,218.3 L628.20,218.2 L628.60,216.2 L629.00,215.9 L629.40,216.2 L629.80,216.4 L630.20,215.5 L630.60,216.2 L631.00,214.1 L631.40,214.8 L631.80,215.2 L632.20,213.0 L632.60,212.6 L633.00,212.7 L633.40,212.4 L633.80,213.1 L634.20,214.4 L634.60,215.3 L635.00,215.6 L635.40,215.2 L635.80,216.8 L636.20,217.0 L636.60,216.7 L637.00,216.8 L637.40,215.2 L637.80,214.9 L638.20,212.5 L638.60,212.1 L639.00,214.1 L639.40,215.2 L639.80,213.7 L640.20,213.9 L640.60,213.5 L641.00,213.0 L641.40,213.3 L641.80,212.0 L642.20,213.7 L642.60,213.8 L643.00,213.1 L643.40,214.6 L643.80,214.0 L644.20,213.7 L644.60,213.8 L645.00,214.7 L645.40,213.4 L645.80,213.4 L646.20,214.6 L646.60,211.8 L647.00,213.6 L647.40,214.5 L647.80,211.9 L648.20,210.8 L648.60,214.2 L649.00,214.4 L649.40,211.6 L649.80,213.2 L650.20,214.5 L650.60,214.2 L651.00,216.3 L651.40,215.8 L651.40,232.2 L651.00,231.9 L650.60,231.2 L650.20,234.0 L649.80,233.6 L649.40,236.1 L649.00,232.9 L648.60,234.2 L648.20,233.9 L647.80,233.4 L647.40,234.2 L647.00,234.4 L646.60,235.2 L646.20,233.2 L645.80,232.0 L645.40,233.6 L645.00,232.5 L644.60,232.9 L644.20,233.6 L643.80,232.3 L643.40,235.2 L643.00,233.9 L642.60,233.3 L642.20,233.4 L641.80,233.5 L641.40,232.0 L641.00,233.6 L640.60,231.9 L640.20,234.0 L639.80,234.4 L639.40,234.3 L639.00,233.2 L638.60,234.3 L638.20,233.7 L637.80,233.5 L637.40,231.7 L637.00,231.7 L636.60,231.3 L636.20,231.0 L635.80,230.6 L635.40,231.0 L635.00,231.0 L634.60,232.2 L634.20,233.7 L633.80,235.2 L633.40,234.0 L633.00,233.8 L632.60,233.9 L632.20,233.9 L631.80,232.2 L631.40,233.2 L631.00,233.1 L630.60,230.9 L630.20,231.1 L629.80,230.6 L629.40,230.8 L629.00,229.9 L628.60,229.5 L628.20,230.5 L627.80,228.7 L627.40,227.7 L627.00,226.3 L626.60,226.5 L626.20,226.7 L625.80,226.4 L625.40,226.0 L625.00,226.3 L624.60,226.1 L624.20,226.3 L623.80,225.7 L623.40,225.5 L623.00,225.6 L622.60,225.8 L622.20,225.8 L621.80,226.0 L621.40,226.5 L621.00,226.2 L620.60,226.3 L620.20,226.1 L619.80,225.9 L619.40,226.2 L619.00,226.4 L618.60,226.5 L618.20,226.4 L617.80,226.3 L617.40,227.0 L617.00,226.4 L616.60,227.7 L616.20,227.8 L615.80,227.0 L615.40,227.2 L615.00,226.4 L614.60,226.4 L614.20,226.1 L613.80,226.7 L613.40,227.6 L613.00,228.7 L612.60,228.6 L612.20,230.4 L611.80,229.4 L611.40,230.7 L611.00,229.8 L610.60,230.6 L610.20,233.2 L609.80,233.5 L609.40,232.8 L609.00,232.2 L608.60,230.9 L608.20,231.4 L607.80,232.3 L607.40,230.3 L607.00,231.3 L606.60,232.4 L606.20,231.1 L605.80,231.6 L605.40,232.9 L605.00,233.2 L604.60,232.8 L604.20,234.5 L603.80,234.7 L603.40,235.7 L603.00,236.3 L602.60,232.6 L602.20,235.0 L601.80,235.2 L601.40,233.2 L601.00,232.3 L600.60,233.2 L600.20,232.0 L599.80,232.5 L599.40,232.7 L599.00,232.2 L598.60,233.6 L598.20,232.1 L597.80,234.4 L597.40,231.4 L597.00,232.6 L596.60,234.0 L596.20,233.3 L595.80,233.1 L595.40,233.0 L595.00,233.8 L594.60,234.1 L594.20,231.7 L593.80,232.3 L593.40,231.5 L593.00,232.6 L592.60,233.3 L592.20,232.2 L591.80,232.3 L591.40,233.5 L591.00,232.0 L590.60,233.4 L590.20,232.0 L589.80,231.2 L589.40,233.5 L589.00,232.7 L588.60,230.6 L588.20,231.2 L587.80,232.8 L587.40,234.0 L587.00,232.6 L586.60,233.6 L586.20,233.7 L585.80,236.2 L585.40,235.4 L585.00,235.9 L584.60,234.7 L584.20,235.5 L583.80,236.4 L583.40,235.6 L583.00,235.3 L582.60,235.0 L582.20,234.4 L581.80,231.8 L581.40,230.4 L581.00,231.8 L580.60,231.4 L580.20,232.2 L579.80,235.0 L579.40,235.7 L579.00,234.7 L578.60,234.2 L578.20,231.9 L577.80,232.9 L577.40,231.0 L577.00,230.4 L576.60,230.8 L576.20,229.5 L575.80,231.5 L575.40,229.5 L575.00,229.8 L574.60,231.7 L574.20,230.6 L573.80,230.8 L573.40,233.4 L573.00,231.6 L572.60,231.7 L572.20,232.3 L571.80,233.3 L571.40,232.0 L571.00,231.5 L570.60,233.1 L570.20,231.8 L569.80,231.6 L569.40,230.7 L569.00,231.7 L568.60,231.0 L568.20,230.9 L567.80,230.5 L567.40,229.9 L567.00,229.8 L566.60,230.8 L566.20,229.8 L565.80,229.5 L565.40,230.1 L565.00,231.7 L564.60,232.4 L564.20,231.0 L563.80,233.0 L563.40,231.8 L563.00,230.9 L562.60,231.2 L562.20,229.4 L561.80,227.5 L561.40,227.3 L561.00,227.2 L560.60,227.1 L560.20,227.3 L559.80,226.8 L559.40,227.4 L559.00,226.8 L558.60,228.2 L558.20,228.7 L557.80,229.2 L557.40,228.9 L557.00,228.7 L556.60,228.7 L556.20,227.7 L555.80,228.3 L555.40,229.5 L555.00,229.8 L554.60,229.9 L554.20,229.6 L553.80,232.1 L553.40,231.7 L553.00,234.7 L552.60,235.3 L552.20,232.6 L551.80,233.2 L551.40,232.5 L551.00,235.8 L550.60,235.4 L550.20,233.0 L549.80,234.1 L549.40,231.6 L549.00,233.0 L548.60,231.5 L548.20,230.2 L547.80,231.6 L547.40,231.0 L547.00,232.6 L546.60,233.5 L546.20,234.7 L545.80,234.5 L545.40,233.8 L545.00,232.5 L544.60,232.0 L544.20,229.8 L543.80,230.2 L543.40,230.4 L543.00,231.6 L542.60,232.1 L542.20,232.1 L541.80,232.1 L541.40,233.4 L541.00,232.6 L540.60,231.8 L540.20,231.6 L539.80,230.7 L539.40,232.0 L539.00,230.7 L538.60,233.0 L538.20,234.1 L537.80,233.0 L537.40,236.3 L537.00,233.8 L536.60,234.8 L536.20,235.1 L535.80,233.6 L535.40,234.1 L535.00,233.1 L534.60,233.9 L534.20,234.7 L533.80,234.3 L533.40,232.2 L533.00,231.5 L532.60,232.1 L532.20,232.6 L531.80,231.7 L531.40,230.9 L531.00,231.9 L530.60,231.9 L530.20,231.2 L529.80,230.5 L529.40,233.0 L529.00,232.9 L528.60,232.9 L528.20,233.1 L527.80,233.5 L527.40,232.3 L527.00,235.2 L526.60,233.0 L526.20,235.1 L525.80,232.4 L525.40,232.7 L525.00,232.8 L524.60,232.6 L524.20,230.3 L523.80,230.2 L523.40,232.2 L523.00,234.2 L522.60,232.8 L522.20,234.9 L521.80,234.3 L521.40,236.9 L521.00,234.2 L520.60,236.0 L520.20,235.8 L519.80,235.4 L519.40,234.9 L519.00,234.3 L518.60,231.2 L518.20,231.7 L517.80,231.7 L517.40,229.3 L517.00,231.4 L516.60,231.6 L516.20,230.4 L515.80,231.8 L515.40,230.5 L515.00,230.8 L514.60,232.2 L514.20,233.2 L513.80,233.8 L513.40,232.2 L513.00,233.2 L512.60,234.4 L512.20,234.5 L511.80,233.1 L511.40,234.3 L511.00,235.2 L510.60,234.6 L510.20,232.5 L509.80,233.1 L509.40,231.5 L509.00,231.8 L508.60,231.9 L508.20,232.8 L507.80,230.7 L507.40,233.5 L507.00,233.8 L506.60,232.0 L506.20,234.4 L505.80,232.7 L505.40,234.7 L505.00,234.2 L504.60,232.1 L504.20,233.1 L503.80,232.6 L503.40,233.3 L503.00,232.9 L502.60,234.3 L502.20,235.5 L501.80,233.1 L501.40,235.1 L501.00,233.9 L500.60,234.3 L500.20,232.8 L499.80,235.1 L499.40,232.9 L499.00,232.2 L498.60,231.9 L498.20,233.2 L497.80,233.3 L497.40,233.4 L497.00,232.0 L496.60,229.9 L496.20,230.8 L495.80,230.6 L495.40,228.8 L495.00,229.0 L494.60,230.0 L494.20,230.2 L493.80,230.1 L493.40,229.3 L493.00,228.5 L492.60,228.0 L492.20,227.1 L491.80,227.0 L491.40,227.5 L491.00,227.1 L490.60,227.1 L490.20,227.1 L489.80,227.0 L489.40,227.0 L489.00,227.0 L488.60,227.7 L488.20,227.7 L487.80,227.8 L487.40,226.9 L487.00,226.8 L486.60,227.0 L486.20,226.7 L485.80,227.2 L485.40,227.2 L485.00,227.5 L484.60,226.7 L484.20,226.8 L483.80,226.5 L483.40,227.3 L483.00,226.8 L482.60,226.8 L482.20,226.7 L481.80,227.1 L481.40,227.6 L481.00,227.1 L480.60,226.4 L480.20,226.9 L479.80,226.2 L479.40,226.5 L479.00,226.7 L478.60,225.8 L478.20,224.9 L477.80,224.8 L477.40,224.5 L477.00,224.5 L476.60,224.8 L476.20,224.5 L475.80,224.4 L475.40,224.4 L475.00,224.6 L474.60,224.4 L474.20,224.6 L473.80,224.4 L473.40,224.5 L473.00,224.7 L472.60,224.4 L472.20,224.6 L471.80,224.4 L471.40,224.6 L471.00,224.7 L470.60,224.6 L470.20,224.5 L469.80,224.3 L469.40,224.5 L469.00,224.4 L468.60,224.4 L468.20,224.5 L467.80,224.6 L467.40,224.5 L467.00,224.6 L466.60,224.6 L466.20,224.7 L465.80,224.5 L465.40,224.8 L465.00,225.1 L464.60,225.1 L464.20,225.0 L463.80,225.1 L463.40,225.6 L463.00,225.8 L462.60,225.9 L462.20,226.1 L461.80,226.0 L461.40,225.7 L461.00,226.1 L460.60,225.9 L460.20,225.6 L459.80,225.6 L459.40,226.1 L459.00,225.9 L458.60,225.9 L458.20,226.0 L457.80,225.9 L457.40,225.8 L457.00,226.4 L456.60,226.1 L456.20,226.6 L455.80,226.7 L455.40,226.9 L455.00,227.5 L454.60,227.4 L454.20,228.5 L453.80,228.6 L453.40,228.1 L453.00,229.6 L452.60,229.3 L452.20,228.6 L451.80,229.1 L451.40,228.9 L451.00,229.9 L450.60,228.9 L450.20,228.4 L449.80,228.8 L449.40,229.2 L449.00,229.2 L448.60,229.1 L448.20,229.1 L447.80,229.8 L447.40,230.2 L447.00,229.3 L446.60,227.4 L446.20,225.8 L445.80,224.6 L445.40,224.4 L445.00,224.4 L444.60,224.3 L444.20,224.5 L443.80,224.7 L443.40,224.5 L443.00,224.8 L442.60,225.3 L442.20,225.4 L441.80,226.0 L441.40,227.0 L441.00,227.6 L440.60,226.7 L440.20,226.9 L439.80,228.4 L439.40,227.7 L439.00,227.6 L438.60,228.0 L438.20,228.4 L437.80,228.8 L437.40,228.8 L437.00,229.9 L436.60,229.8 L436.20,230.6 L435.80,229.7 L435.40,230.7 L435.00,229.8 L434.60,230.3 L434.20,230.0 L433.80,230.0 L433.40,229.2 L433.00,230.1 L432.60,231.3 L432.20,229.5 L431.80,231.6 L431.40,230.1 L431.00,229.7 L430.60,229.9 L430.20,228.3 L429.80,228.1 L429.40,228.5 L429.00,229.2 L428.60,229.3 L428.20,229.4 L427.80,228.9 L427.40,229.5 L427.00,229.2 L426.60,230.4 L426.20,229.6 L425.80,229.6 L425.40,229.4 L425.00,230.8 L424.60,230.1 L424.20,229.8 L423.80,230.1 L423.40,231.8 L423.00,232.2 L422.60,229.8 L422.20,230.7 L421.80,229.4 L421.40,229.9 L421.00,228.7 L420.60,228.8 L420.20,229.1 L419.80,228.6 L419.40,231.0 L419.00,229.9 L418.60,230.3 L418.20,230.2 L417.80,230.8 L417.40,229.9 L417.00,230.3 L416.60,230.3 L416.20,230.9 L415.80,231.7 L415.40,231.4 L415.00,229.8 L414.60,231.3 L414.20,231.3 L413.80,230.7 L413.40,231.6 L413.00,231.5 L412.60,231.4 L412.20,231.9 L411.80,232.1 L411.40,232.4 L411.00,231.6 L410.60,232.2 L410.20,231.9 L409.80,230.7 L409.40,231.4 L409.00,229.9 L408.60,229.2 L408.20,230.0 L407.80,229.7 L407.40,229.4 L407.00,229.7 L406.60,230.4 L406.20,231.5 L405.80,230.3 L405.40,230.6 L405.00,231.5 L404.60,231.8 L404.20,232.0 L403.80,231.9 L403.40,230.9 L403.00,230.9 L402.60,231.2 L402.20,230.7 L401.80,232.0 L401.40,232.5 L401.00,231.1 L400.60,230.6 L400.20,231.7 L399.80,232.0 L399.40,230.1 L399.00,229.5 L398.60,230.3 L398.20,230.6 L397.80,228.4 L397.40,226.5 L397.00,224.8 L396.60,224.6 L396.20,224.6 L395.80,224.7 L395.40,224.6 L395.00,224.5 L394.60,224.3 L394.20,224.3 L393.80,224.5 L393.40,224.5 L393.00,224.3 L392.60,224.3 L392.20,224.4 L391.80,224.4 L391.40,224.4 L391.00,224.5 L390.60,224.6 L390.20,224.7 L389.80,224.8 L389.40,224.5 L389.00,224.4 L388.60,224.5 L388.20,224.2 L387.80,224.2 L387.40,224.3 L387.00,224.2 L386.60,224.2 L386.20,224.2 L385.80,224.4 L385.40,224.2 L385.00,224.2 L384.60,224.5 L384.20,224.4 L383.80,224.4 L383.40,224.4 L383.00,224.6 L382.60,224.7 L382.20,224.7 L381.80,224.4 L381.40,224.8 L381.00,225.4 L380.60,226.4 L380.20,227.4 L379.80,227.6 L379.40,227.0 L379.00,227.7 L378.60,226.6 L378.20,227.1 L377.80,227.8 L377.40,227.9 L377.00,228.2 L376.60,228.2 L376.20,227.2 L375.80,227.4 L375.40,226.8 L375.00,226.3Z" fill="#0072BD"/>
<path d="M375.00,219.7V228.0M375.40,218.6V227.5M375.80,217.1V228.0M376.20,218.4V230.3M376.60,218.3V232.3M377.00,218.3V228.0M377.40,215.6V227.8M377.80,219.0V227.5M378.20,218.9V228.3M378.60,214.0V231.6M379.00,219.7V229.9M379.40,219.3V227.6M379.80,220.1V232.2M380.20,218.7V226.8M380.60,219.9V227.0M381.00,219.5V226.2M397.40,220.2V231.2M397.80,212.3V232.5M398.20,217.5V235.2M398.60,207.7V229.6M399.00,216.8V230.7M399.40,215.1V231.8M399.80,214.5V236.4M400.20,213.0V233.9M400.60,209.2V243.4M401.00,214.1V232.7M401.40,200.3V233.2M401.80,214.3V232.5M402.20,213.9V233.0M402.60,212.2V233.7M403.00,211.0V239.1M403.40,215.5V231.7M403.80,215.4V231.5M404.20,206.0V232.0M404.60,216.0V231.2M405.00,211.1V230.9M405.40,212.3V245.3M405.80,211.9V231.0M406.20,215.2V236.2M406.60,211.1V230.9M407.00,217.5V231.8M407.40,217.6V232.5M407.80,217.7V238.5M408.20,214.8V233.3M408.60,212.5V235.2M409.00,215.2V238.6M409.40,215.0V232.1M409.80,208.1V231.2M410.20,210.5V231.7M410.60,209.9V235.1M411.00,212.2V232.1M411.40,205.3V245.6M411.80,197.3V237.0M412.20,209.8V231.1M412.60,213.4V231.9M413.00,213.9V234.4M413.40,212.5V230.6M413.80,205.8V231.8M414.20,213.4V240.8M414.60,205.7V238.5M415.00,216.7V230.7M415.40,213.3V232.9M415.80,214.3V231.5M416.20,212.9V239.9M416.60,213.6V231.8M417.00,216.3V231.3M417.40,213.8V233.1M417.80,216.4V245.9M418.20,212.2V232.5M418.60,209.9V233.2M419.00,210.2V234.1M419.40,214.1V229.6M419.80,217.8V233.0M420.20,213.0V237.1M420.60,209.9V228.6M421.00,217.3V232.3M421.40,211.7V231.9M421.80,211.8V232.1M422.20,212.0V232.1M422.60,213.9V236.8M423.00,211.6V240.7M423.40,214.6V232.9M423.80,212.8V231.1M424.20,216.0V239.4M424.60,213.2V232.8M425.00,216.0V231.1M425.40,203.1V231.0M425.80,210.3V233.6M426.20,214.1V231.9M426.60,217.0V232.2M427.00,215.7V229.4M427.40,215.1V229.7M427.80,218.2V229.5M428.20,205.2V231.5M428.60,211.9V237.3M429.00,211.9V229.1M429.40,218.4V229.9M429.80,217.3V229.4M430.20,217.3V230.4M430.60,204.6V243.2M431.00,215.1V232.6M431.40,214.4V239.3M431.80,216.7V231.0M432.20,216.1V236.3M432.60,207.6V230.7M433.00,217.2V231.0M433.40,217.7V231.4M433.80,217.2V229.5M434.20,215.3V230.2M434.60,209.6V231.4M435.00,216.0V231.9M435.40,214.9V231.3M435.80,205.7V230.1M436.20,211.1V239.5M436.60,215.4V230.5M437.00,216.4V231.8M437.40,209.3V229.7M437.80,208.2V238.6M438.20,217.6V241.6M438.60,216.5V232.6M439.00,218.1V237.6M439.40,217.2V228.0M439.80,219.2V240.0M440.20,216.6V227.7M440.60,213.1V228.7M441.00,219.7V227.1M441.40,220.6V226.8M441.80,220.5V230.7M442.20,221.1V227.4M442.60,221.5V225.9M446.20,220.5V226.2M446.60,219.5V229.5M447.00,216.2V232.7M447.40,216.8V242.8M447.80,216.8V232.6M448.20,215.9V235.7M448.60,218.4V230.3M449.00,217.4V240.5M449.40,217.3V234.3M449.80,217.1V229.9M450.20,217.7V230.2M450.60,217.2V229.0M451.00,211.8V235.6M451.40,210.1V231.1M451.80,211.5V232.7M452.20,211.5V229.9M452.60,214.7V232.8M453.00,218.0V230.8M453.40,216.4V230.5M453.80,216.0V235.2M454.20,219.1V235.7M454.60,218.1V232.4M455.00,218.4V227.6M455.40,218.6V227.5M455.80,220.5V226.4M456.20,220.7V228.9M456.60,220.8V226.4M457.00,218.5V226.1M457.40,220.8V227.7M457.80,220.2V226.2M458.20,221.2V227.7M458.60,220.7V225.8M459.00,221.1V228.7M459.40,221.0V232.6M459.80,220.0V226.7M460.20,220.7V228.0M460.60,221.3V225.7M461.00,218.6V226.7M461.40,221.4V227.3M461.80,221.0V227.5M462.20,220.7V227.8M462.60,220.1V226.0M463.00,221.3V225.8M463.40,221.1V225.5M463.80,218.8V226.0M464.20,221.3V225.8M478.20,221.5V225.4M478.60,219.1V226.6M479.00,217.6V227.3M479.40,219.0V228.0M479.80,219.9V227.0M480.20,218.6V229.1M480.60,217.4V228.0M481.00,219.3V227.0M481.40,220.1V228.3M481.80,213.8V228.3M482.20,217.6V227.9M482.60,218.0V227.2M483.00,220.1V229.9M483.40,220.1V229.3M483.80,218.0V232.2M484.20,219.2V228.6M484.60,219.2V227.3M485.00,219.1V227.3M485.40,218.3V227.5M485.80,219.6V231.6M486.20,217.3V230.1M486.60,219.5V227.6M487.00,216.8V228.6M487.40,219.0V229.4M487.80,216.6V229.8M488.20,219.9V229.0M488.60,218.9V227.4M489.00,218.9V232.8M489.40,219.1V235.3M489.80,219.5V233.3M490.20,219.5V228.9M490.60,215.9V233.4M491.00,219.5V227.6M491.40,219.8V228.4M491.80,213.7V227.6M492.20,214.3V228.6M492.60,218.7V230.5M493.00,217.2V229.1M493.40,216.6V231.8M493.80,216.9V230.5M494.20,209.9V231.7M494.60,215.2V232.1M495.00,203.6V229.7M495.40,218.0V231.6M495.80,217.7V231.0M496.20,211.0V253.6M496.60,207.0V230.9M497.00,216.0V232.2M497.40,214.3V238.0M497.80,215.0V233.3M498.20,214.1V242.9M498.60,207.2V241.7M499.00,201.1V236.1M499.40,211.9V241.5M499.80,206.2V238.5M500.20,213.4V235.8M500.60,210.2V239.8M501.00,209.8V244.2M501.40,213.5V237.4M501.80,213.0V245.3M502.20,210.1V238.5M502.60,214.1V236.6M503.00,212.2V238.8M503.40,212.0V233.1M503.80,214.7V232.7M504.20,213.4V239.2M504.60,193.6V233.2M505.00,209.6V233.5M505.40,203.7V248.4M505.80,212.2V233.6M506.20,211.2V245.6M506.60,212.4V235.7M507.00,199.6V239.3M507.40,212.7V234.4M507.80,210.3V235.0M508.20,205.6V235.4M508.60,208.4V252.0M509.00,215.1V237.7M509.40,203.7V237.1M509.80,211.1V233.9M510.20,213.3V240.3M510.60,209.4V236.1M511.00,193.6V234.4M511.40,201.8V233.6M511.80,208.1V234.0M512.20,210.5V241.3M512.60,206.1V241.0M513.00,211.0V232.8M513.40,205.7V234.6M513.80,214.9V233.5M514.20,210.9V233.9M514.60,213.9V234.0M515.00,214.9V238.7M515.40,198.6V233.7M515.80,214.1V231.8M516.20,208.9V231.4M516.60,214.0V231.0M517.00,216.9V238.5M517.40,216.6V233.8M517.80,208.5V238.2M518.20,213.5V231.2M518.60,196.9V236.3M519.00,196.5V234.3M519.40,210.7V239.0M519.80,212.8V251.1M520.20,201.9V253.6M520.60,212.3V248.6M521.00,212.5V236.3M521.40,205.9V247.7M521.80,211.5V240.1M522.20,208.0V240.5M522.60,207.3V253.6M523.00,210.7V240.1M523.40,212.6V236.9M523.80,211.0V239.3M524.20,211.8V234.0M524.60,212.8V238.2M525.00,204.8V232.0M525.40,214.4V233.7M525.80,213.6V235.8M526.20,208.0V235.8M526.60,213.4V237.7M527.00,193.6V234.2M527.40,207.3V234.0M527.80,197.9V241.4M528.20,209.4V236.9M528.60,195.3V232.0M529.00,211.2V248.1M529.40,204.6V232.0M529.80,215.8V231.7M530.20,212.6V233.3M530.60,215.3V231.5M531.00,214.4V232.5M531.40,215.5V232.0M531.80,212.8V234.2M532.20,212.1V232.5M532.60,207.2V235.4M533.00,193.6V239.4M533.40,215.2V240.3M533.80,212.5V234.5M534.20,202.6V240.2M534.60,208.6V235.7M535.00,193.6V238.6M535.40,201.1V236.2M535.80,209.0V235.1M536.20,211.2V236.8M536.60,199.4V240.3M537.00,212.5V238.6M537.40,212.2V234.5M537.80,207.6V245.9M538.20,214.0V234.4M538.60,213.6V244.7M539.00,214.8V241.7M539.40,210.5V231.6M539.80,215.5V231.9M540.20,211.4V236.8M540.60,198.9V239.1M541.00,212.4V232.8M541.40,212.4V243.0M541.80,210.8V247.4M542.20,213.5V235.0M542.60,209.7V241.0M543.00,211.1V231.5M543.40,208.7V232.6M543.80,215.4V231.7M544.20,213.0V232.0M544.60,214.2V231.5M545.00,196.1V235.7M545.40,213.1V233.4M545.80,203.4V239.5M546.20,213.3V247.3M546.60,210.9V239.6M547.00,207.5V237.4M547.40,213.8V241.1M547.80,211.9V235.9M548.20,207.1V232.9M548.60,211.3V233.2M549.00,200.5V233.2M549.40,206.7V246.9M549.80,210.4V236.4M550.20,213.8V233.6M550.60,205.1V234.3M551.00,202.9V241.3M551.40,211.4V233.5M551.80,213.1V236.3M552.20,211.8V234.0M552.60,213.6V248.5M553.00,211.8V235.2M553.40,212.6V236.9M553.80,208.0V233.0M554.20,216.5V236.5M554.60,217.3V232.9M555.00,214.9V230.3M555.40,217.0V232.9M555.80,218.3V228.2M556.20,217.9V228.8M556.60,217.5V234.2M557.00,218.0V238.3M557.40,217.7V228.6M557.80,217.8V246.6M558.20,208.9V232.2M558.60,215.2V228.4M559.00,219.5V229.7M559.40,219.9V228.6M559.80,218.8V235.0M560.20,219.6V229.3M560.60,217.3V229.1M561.00,219.1V226.8M561.40,215.5V229.7M561.80,218.7V228.3M562.20,218.0V230.4M562.60,215.5V237.0M563.00,212.8V235.8M563.40,200.4V241.2M563.80,214.5V243.3M564.20,212.4V236.1M564.60,214.9V231.7M565.00,215.9V233.4M565.40,215.5V235.8M565.80,206.7V229.7M566.20,215.7V229.8M566.60,214.5V231.0M567.00,217.3V229.9M567.40,214.9V233.0M567.80,207.4V231.8M568.20,216.4V231.5M568.60,214.7V236.6M569.00,212.5V234.6M569.40,211.5V236.6M569.80,212.2V235.4M570.20,213.0V237.1M570.60,212.6V235.0M571.00,213.7V233.0M571.40,207.9V246.1M571.80,208.2V234.8M572.20,208.9V232.6M572.60,208.3V240.8M573.00,215.1V233.7M573.40,214.8V241.1M573.80,213.3V233.4M574.20,215.6V233.9M574.60,210.7V232.9M575.00,215.0V235.6M575.40,213.3V232.6M575.80,216.4V243.6M576.20,207.6V235.6M576.60,215.7V231.4M577.00,213.9V236.3M577.40,210.6V231.2M577.80,211.2V236.5M578.20,210.8V233.6M578.60,212.5V233.9M579.00,199.3V238.6M579.40,212.2V234.0M579.80,206.3V234.8M580.20,213.1V236.5M580.60,210.6V236.8M581.00,209.2V232.8M581.40,213.8V231.2M581.80,214.6V233.6M582.20,207.6V249.8M582.60,210.1V240.7M583.00,202.7V237.2M583.40,209.9V253.6M583.80,198.2V238.2M584.20,209.4V234.6M584.60,199.4V235.6M585.00,210.0V236.7M585.40,201.2V237.8M585.80,207.8V238.4M586.20,212.6V237.4M586.60,210.2V233.0M587.00,214.7V234.0M587.40,213.4V233.0M587.80,210.1V235.5M588.20,214.8V235.9M588.60,211.1V237.8M589.00,214.9V253.6M589.40,212.5V236.9M589.80,214.2V232.4M590.20,211.8V234.8M590.60,204.6V239.2M591.00,210.7V233.2M591.40,214.7V232.0M591.80,207.2V243.7M592.20,211.9V232.2M592.60,213.3V234.5M593.00,213.5V233.9M593.40,206.6V234.1M593.80,210.2V245.1M594.20,201.6V242.3M594.60,211.7V239.7M595.00,214.3V232.9M595.40,203.2V239.8M595.80,210.5V240.0M596.20,207.9V234.4M596.60,196.4V237.2M597.00,212.9V249.3M597.40,212.3V237.1M597.80,214.7V235.5M598.20,213.0V235.0M598.60,213.1V238.5M599.00,207.8V248.2M599.40,200.3V237.6M599.80,214.4V242.0M600.20,211.6V242.5M600.60,205.5V235.1M601.00,209.1V232.8M601.40,211.0V242.9M601.80,212.1V233.5M602.20,212.1V236.8M602.60,193.6V238.9M603.00,213.2V234.4M603.40,212.6V242.4M603.80,212.9V248.9M604.20,211.9V236.8M604.60,207.5V239.0M605.00,214.0V232.3M605.40,211.1V236.8M605.80,213.8V238.2M606.20,199.8V233.5M606.60,212.5V240.4M607.00,208.1V234.4M607.40,206.9V231.9M607.80,213.7V231.3M608.20,213.3V234.9M608.60,212.1V231.8M609.00,213.6V242.9M609.40,211.9V236.9M609.80,213.1V240.3M610.20,215.2V233.3M610.60,213.7V237.2M611.00,216.2V231.6M611.40,207.5V230.4M611.80,215.1V233.2M612.20,218.0V229.8M612.60,203.7V231.3M613.00,215.7V231.4M613.40,212.4V231.1M613.80,219.5V229.5M614.20,220.3V234.0M614.60,219.4V227.1M615.00,215.7V229.7M615.40,218.1V228.0M615.80,218.3V228.0M616.20,219.8V230.2M616.60,219.8V227.3M617.00,219.7V228.3M617.40,220.0V227.3M617.80,218.9V229.7M618.20,220.9V227.1M618.60,220.0V226.3M619.00,220.6V228.4M619.40,220.8V226.2M619.80,218.6V226.7M620.20,216.2V227.8M620.60,217.2V226.8M621.00,216.1V226.2M621.40,219.5V229.3M621.80,220.1V226.3M622.20,221.3V231.4M622.60,219.6V229.3M623.00,221.2V229.6M623.40,221.5V226.1M623.80,221.0V226.0M624.20,218.3V226.5M624.60,216.8V226.1M625.00,220.6V228.3M625.40,219.2V227.6M625.80,220.0V231.5M626.20,219.8V227.2M626.60,220.4V229.8M627.00,220.7V226.6M627.40,218.2V230.4M627.80,217.7V236.3M628.20,215.5V234.5M628.60,205.8V238.2M629.00,205.3V230.8M629.40,214.3V240.8M629.80,216.6V235.8M630.20,211.7V235.0M630.60,208.5V240.8M631.00,215.6V235.5M631.40,214.1V234.2M631.80,214.5V234.9M632.20,202.7V242.5M632.60,202.9V233.1M633.00,211.7V237.4M633.40,208.0V240.9M633.80,202.0V242.6M634.20,200.5V238.7M634.60,193.6V245.8M635.00,215.2V231.9M635.40,206.8V231.4M635.80,211.9V231.4M636.20,208.0V235.4M636.60,215.6V231.1M637.00,213.4V233.3M637.40,207.8V239.1M637.80,210.1V243.2M638.20,204.7V241.0M638.60,210.7V234.4M639.00,208.1V252.8M639.40,209.6V242.1M639.80,210.9V243.2M640.20,210.2V253.3M640.60,201.1V251.2M641.00,211.5V234.3M641.40,212.9V233.4M641.80,211.8V233.5M642.20,205.8V245.5M642.60,203.5V234.1M643.00,204.1V247.8M643.40,210.6V236.3M643.80,207.8V253.6M644.20,205.9V236.5M644.60,213.7V233.8M645.00,205.0V237.4M645.40,208.2V238.3M645.80,205.2V235.7M646.20,213.7V237.3M646.60,207.1V236.4M647.00,210.7V238.9M647.40,211.6V245.0M647.80,201.3V238.9M648.20,207.9V239.1M648.60,202.3V237.5M649.00,198.1V237.3M649.40,195.5V240.7M649.80,201.5V241.0M650.20,210.5V232.8M650.60,207.6V239.7M651.00,209.7V234.7M651.40,207.0V251.1M402.60,203.6V243.6M417.80,197.0V236.0M424.00,213.0V249.3M449.00,210.8V235.0M520.00,203.0V246.0M528.00,200.0V244.0M540.00,194.0V251.0M547.00,198.0V248.0M567.00,194.0V250.0M575.00,200.0V244.0M602.50,190.5V247.3M603.20,193.0V245.0M633.00,200.0V251.0M645.00,194.6V246.0" stroke="#0072BD" stroke-width="0.6" fill="none"/>
<text x="420.5" y="207.1" font-size="13.5" fill="#444" color="#444" font-family="Liberation Sans" textLength="95" lengthAdjust="spacingAndGlyphs">Amplitude death</text></svg>
</body></html>
